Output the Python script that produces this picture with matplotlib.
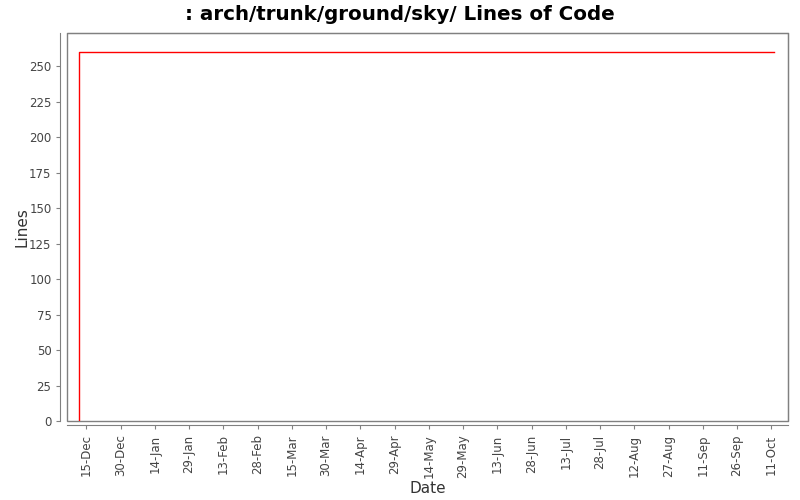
import matplotlib
matplotlib.use("Agg")
import matplotlib.pyplot as plt
import matplotlib.dates as mdates
from matplotlib.patches import Rectangle
import pandas as pd

# data
dates = ["2006-12-12", "2006-12-12", "2007-10-12"]
lines = [0, 260, 260]
tick_start = "2006-12-15"
tick_count = 21

x = pd.to_datetime(dates)
ticks = pd.date_range(tick_start, periods=tick_count, freq="15D")

fig = plt.figure(figsize=(8, 5), dpi=100)
ax = fig.add_axes([0.0834, 0.1574, 0.9016, 0.7766])

ax.plot(x, lines, color="#ff0000", lw=1.0)

ax.set_xlim(pd.Timestamp("2006-12-06 10:00"), pd.Timestamp("2007-10-18 08:00"))
ax.set_ylim(0, 273.2)
ax.set_yticks(range(0, 251, 25))
ax.set_xticks(ticks)
ax.xaxis.set_major_formatter(mdates.DateFormatter("%d-%b"))

grey = "#808080"
for s in ["top", "right"]:
    ax.spines[s].set_color(grey)
ax.spines["left"].set_position(("outward", 4.5))
ax.spines["bottom"].set_position(("outward", 3))
ax.spines["left"].set_color(grey)
ax.spines["bottom"].set_color(grey)
ax.add_patch(Rectangle((0, 0), 1, 1, transform=ax.transAxes, fill=False,
                       edgecolor=grey, lw=1.0, clip_on=False))

ax.tick_params(axis="both", colors=grey, labelcolor="#444444", labelsize=8.5,
               length=3, width=0.8, direction="out")
plt.setp(ax.get_xticklabels(), rotation=90)

ax.set_xlabel("Date", fontsize=11, color="#333333", labelpad=2)
ax.set_ylabel("Lines", fontsize=11, color="#333333", labelpad=0)
fig.suptitle(": arch/trunk/ground/sky/ Lines of Code", fontsize=14.3,
             fontweight="bold", y=0.99, va="top")

fig.savefig("out.png", dpi=100)
